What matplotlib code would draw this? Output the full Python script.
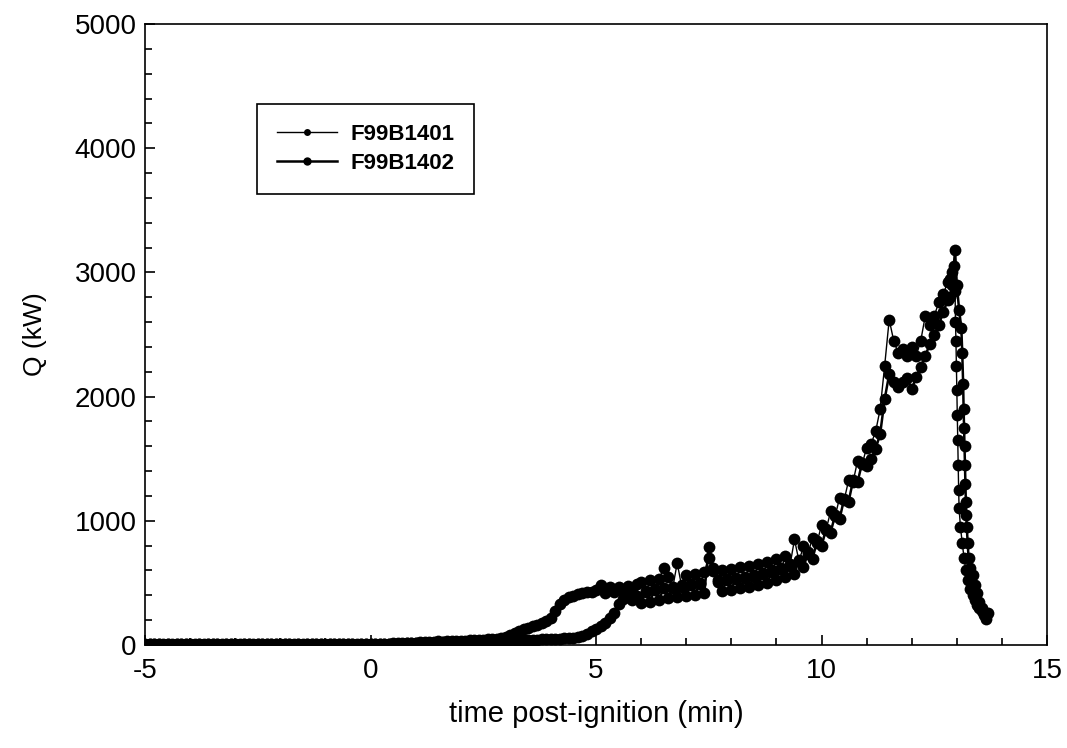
# Heat release rate vs time for the two F99B14 burns
# Output: out.png

import numpy as np              # time grid
import matplotlib
matplotlib.use('Agg')
import matplotlib.pyplot as plt # line plot with markers
from matplotlib.ticker import MultipleLocator

plt.rcParams['font.family'] = ['Liberation Sans', 'DejaVu Sans']
plt.rcParams['axes.unicode_minus'] = False

# series names
labels = ['F99B1401', 'F99B1402']

# common time grid (min), -5.0 .. 12.8 every 0.1 min
t_main = np.linspace(-5.0, 12.8, 179)

# F99B1401 heat release (kW) on the common grid
q_a_main = [
  8, 5, 10, 6, 4, 9, 7, 5, 8, 6,
  5, 9, 7, 4, 8, 6, 10, 7, 5, 8,
  6, 4, 9, 7, 5, 8, 6, 10, 7, 5,
  8, 6, 5, 9, 7, 4, 8, 6, 7, 5,
  9, 6, 8, 5, 7, 10, 6, 8, 5, 7,
  6, 8, 10, 12, 9, 14, 11, 15, 13, 16,
  20, 24, 22, 28, 25, 30, 27, 32, 29, 34,
  36, 33, 40, 38, 44, 42, 48, 52, 50, 58,
  65, 80, 95, 110, 125, 140, 150, 165, 180, 195,
  215, 270, 330, 365, 385, 395, 410, 420, 425, 430,
  440, 480, 420, 465, 430, 470, 425, 475, 440, 490,
  505, 425, 520, 440, 535, 620, 545, 460, 660, 470,
  565, 480, 575, 490, 585, 700, 595, 510, 605, 520,
  615, 530, 625, 540, 635, 550, 650, 570, 670, 590,
  690, 610, 715, 640, 850, 675, 795, 735, 865, 825,
  965, 925, 1075, 1035, 1185, 1165, 1325, 1315, 1485, 1455,
  1590, 1620, 1720, 1900, 2250, 2620, 2450, 2350, 2380, 2330,
  2400, 2330, 2450, 2650, 2580, 2650, 2760, 2830, 2920,
]

# F99B1401 peak and decay (sampled finer)
t_a_tail = [12.85, 12.90, 12.93, 12.96, 12.97, 12.98, 12.99, 13.00, 13.01,
            13.02, 13.03, 13.04, 13.05, 13.08, 13.12, 13.16, 13.20, 13.25,
            13.30, 13.35, 13.40, 13.45, 13.50, 13.55, 13.60, 13.65]
q_a_tail = [2950, 3000, 3050, 2850, 2600, 2450, 2250, 2050, 1850,
            1650, 1450, 1250, 1100, 950, 820, 700, 600, 520,
            450, 400, 360, 320, 300, 270, 240, 210]

# F99B1402 heat release (kW) on the common grid
q_b_main = [
  4, 7, 5, 9, 6, 8, 3, 6, 9, 5,
  7, 4, 8, 6, 9, 5, 7, 4, 8, 6,
  9, 7, 5, 8, 4, 6, 9, 5, 8, 7,
  5, 8, 7, 4, 9, 6, 5, 8, 6, 9,
  4, 7, 6, 9, 5, 8, 7, 4, 6, 8,
  5, 7, 9, 8, 11, 10, 13, 12, 14, 13,
  15, 18, 16, 20, 19, 22, 21, 24, 23, 26,
  25, 28, 27, 30, 29, 32, 31, 34, 33, 36,
  35, 38, 37, 40, 39, 42, 41, 44, 45, 47,
  48, 50, 52, 55, 58, 60, 62, 72, 92, 112,
  132, 155, 180, 215, 260, 330, 370, 390, 365, 395,
  335, 435, 350, 450, 365, 460, 375, 470, 385, 480,
  395, 490, 405, 500, 415, 790, 620, 520, 435, 530,
  445, 540, 455, 550, 465, 560, 480, 580, 500, 600,
  520, 620, 545, 650, 575, 685, 625, 745, 695, 835,
  795, 935, 905, 1045, 1015, 1175, 1155, 1325, 1315, 1465,
  1440, 1500, 1580, 1700, 1980, 2180, 2120, 2080, 2120, 2150,
  2060, 2160, 2240, 2330, 2420, 2500, 2580, 2680, 2780,
]

# F99B1402 peak and decay (sampled finer)
t_b_tail = [12.85, 12.90, 12.96, 13.00, 13.05, 13.10, 13.12, 13.14, 13.15,
            13.16, 13.17, 13.18, 13.19, 13.20, 13.21, 13.22, 13.24, 13.26,
            13.30, 13.35, 13.40, 13.45, 13.50, 13.55, 13.60, 13.65, 13.70]
q_b_tail = [2800, 2900, 3180, 2900, 2700, 2550, 2350, 2100, 1900,
            1750, 1600, 1450, 1300, 1150, 1050, 950, 820, 700,
            620, 560, 480, 420, 350, 300, 260, 230, 260]

# join grid and tail
t_a = np.concatenate([t_main, t_a_tail])
q_a = np.concatenate([q_a_main, q_a_tail])
t_b = np.concatenate([t_main, t_b_tail])
q_b = np.concatenate([q_b_main, q_b_tail])

fig = plt.figure(figsize=(10.67, 7.48), dpi=100)
ax = fig.add_axes([0.1359, 0.1377, 0.8454, 0.8302])

ax.plot(t_a, q_a, color='black', lw=1.0, marker='o', ms=8.5,
        markeredgewidth=0, label=labels[0])
ax.plot(t_b, q_b, color='black', lw=1.8, marker='o', ms=8.5,
        markeredgewidth=0, label=labels[1])

ax.set_xlim(-5, 15)
ax.set_ylim(0, 5000)
ax.xaxis.set_major_locator(MultipleLocator(5))
ax.xaxis.set_minor_locator(MultipleLocator(1))
ax.yaxis.set_major_locator(MultipleLocator(1000))
ax.yaxis.set_minor_locator(MultipleLocator(200))
ax.tick_params(which='both', direction='in', top=False, right=False,
               width=1.2, labelsize=20, color='black')
ax.tick_params(which='major', length=7)
ax.tick_params(which='minor', length=5)
ax.tick_params(axis='x', which='major', pad=9)
ax.tick_params(axis='y', which='major', pad=6)
for sp in ax.spines.values():
  sp.set_linewidth(1.2)

ax.set_xlabel('time post-ignition (min)', fontsize=21, labelpad=12)
ax.set_ylabel('Q (kW)', fontsize=19, labelpad=20)

# legend: thin/small marker for the first run, heavier for the second
leg = ax.legend(loc='upper left', bbox_to_anchor=(0.124, 0.871),
                borderaxespad=0, fancybox=False, frameon=True,
                edgecolor='black', framealpha=1, handlelength=2.7,
                handletextpad=0.6, borderpad=0.9, labelspacing=0.35,
                prop={'size': 16, 'weight': 'bold'})
leg.get_frame().set_linewidth(1.2)
leg_lines = leg.get_lines()
leg_lines[0].set_markersize(5)
leg_lines[1].set_markersize(6)

fig.savefig('out.png', dpi=100)
